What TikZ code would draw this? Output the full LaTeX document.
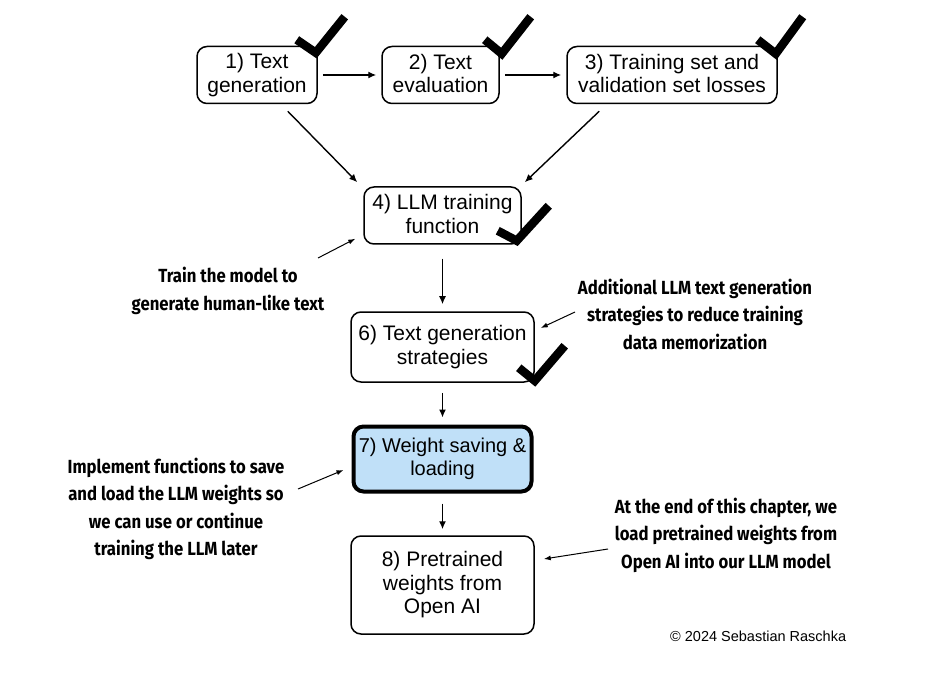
\documentclass[tikz,border=0pt]{standalone}
\usepackage{fontspec}
\setmainfont{Liberation Sans}
\newfontfamily\annotfont[FakeStretch=0.88]{Fira Sans}
\usetikzlibrary{calc,arrows.meta}
\definecolor{boxblue}{HTML}{C0E0F8}
\begin{document}
\begin{tikzpicture}[x=1pt,y=-1pt,
  box/.style={draw, rounded corners=10pt, line width=1.5pt, align=center,
    font=\fontsize{21}{23.5}\selectfont, inner sep=0pt,
    execute at begin node={\rule{0pt}{23pt}}, execute at end node={\rule[-3pt]{0pt}{3pt}}},
  arr/.style={-{Latex[length=8pt,width=7pt]}, line width=1.4pt},
  thinarr/.style={-{Latex[length=7pt,width=5pt]}, line width=1pt},
  tick/.style={line width=8.5pt, line join=miter, line cap=butt},
  annot/.style={align=center, font=\annotfont\bfseries\fontsize{19}{27.5}\selectfont},
]
\useasboundingbox (0,0) rectangle (944,684);

% boxes
\node[box, minimum width=120pt, minimum height=57pt] (b1) at (257,75) {1) Text\\generation};
\node[box, minimum width=117pt, minimum height=57pt] (b2) at (440.5,75) {2) Text\\evaluation};
\node[box, minimum width=210pt, minimum height=57pt] (b3) at (672,75) {3) Training set and\\validation set losses};
\node[box, minimum width=157pt, minimum height=57pt] (b4) at (442.5,215.5) {4) LLM training\\function};
\node[box, minimum width=183pt, minimum height=70pt] (b6) at (442.5,347) {6) Text generation\\strategies};
\node[box, line width=4pt, fill=boxblue, minimum width=178pt, minimum height=65pt, font=\fontsize{20}{23.5}\selectfont] (b7) at (442.5,459) {7) Weight saving \&\\loading};
\node[box, minimum width=183pt, minimum height=98pt] (b8) at (442.5,585) {8) Pretrained\\weights from\\Open AI};

% main arrows
\draw[arr, shorten <=5pt, shorten >=5pt] (b1.east) -- (b2.west);
\draw[arr, shorten <=5pt, shorten >=5pt] (b2.east) -- (b3.west);
\draw[arr] ($(b1.south east)+(-30,7)$) -- ($(b4.north west)+(-6,-4)$);
\draw[arr] ($(b3.south west)+(33,7)$) -- ($(b4.north east)+(3,-4)$);
\draw[arr, shorten <=14pt, shorten >=7pt] (b4.south) -- (b6.north);
\draw[arr, shorten <=10pt, shorten >=7pt] (b6.south) -- (b7.north);
\draw[arr, shorten <=10pt, shorten >=6pt] (b7.south) -- (b8.north);

% check marks
\draw[tick] ($(b1.north east)+(-21,-6)$) -- ($(b1.north east)+(-2,7)$) -- ($(b1.north east)+(27,-29)$);
\draw[tick] ($(b2.north east)+(-15,-6)$) -- ($(b2.north east)+(2,8)$) -- ($(b2.north east)+(31,-29)$);
\draw[tick] ($(b3.north east)+(-20,-6)$) -- ($(b3.north east)+(-2,8)$) -- ($(b3.north east)+(25,-29)$);
\draw[tick] ($(b4.south east)+(-24,-14)$) -- ($(b4.south east)+(-5,-4)$) -- ($(b4.south east)+(27,-39)$);
\draw[tick] ($(b6.south east)+(-16,-15)$) -- ($(b6.south east)+(0,-2)$) -- ($(b6.south east)+(30,-37)$);

% annotations
\node[annot] (a1) at (228,291) {Train the model to\\generate human-like text};
\node[annot] (a2) at (695,314) {Additional LLM text generation\\strategies to reduce training\\data memorization};
\node[annot] (a3) at (176,509) {Implement functions to save\\and load the LLM weights so\\we can use or continue\\training the LLM later};
\node[annot] (a4) at (726,535) {At the end of this chapter, we\\load pretrained weights from\\Open AI into our LLM model};

\coordinate (s1) at (318,258);
\coordinate (s2) at (575,312);
\coordinate (s3) at (298,489);
\coordinate (s4) at (608,549);
\draw[thinarr] (s1) -- ($(b4.south west)+(-8,-6)$);
\draw[thinarr] (s2) -- ($(b6.east)+(6,-19)$);
\draw[thinarr] (s3) -- ($(b7.west)+(-8,11)$);
\draw[thinarr] (s4) -- ($(b8.east)+(9,-26)$);

% copyright
\node[anchor=west, inner sep=0pt, font=\fontsize{14.5}{16}\selectfont] (cr) at (670,636) {© 2024 Sebastian Raschka};
\end{tikzpicture}
\end{document}
